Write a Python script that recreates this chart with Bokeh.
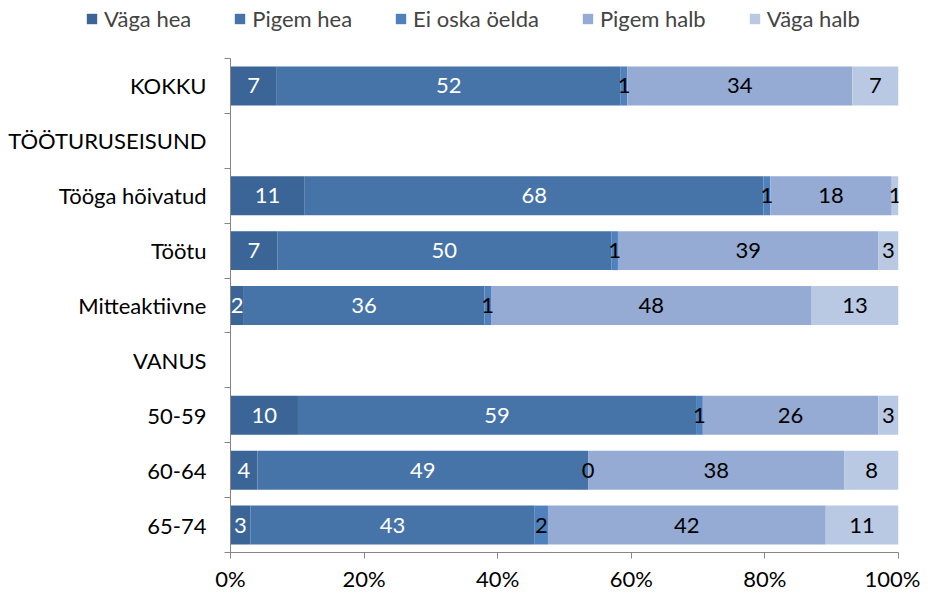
from bokeh.plotting import figure
from bokeh.models import Range1d, FixedTicker, ColumnDataSource, Legend, LegendItem
from bokeh.core.properties import value
from bokeh.embed import file_html
from bokeh.resources import INLINE

categories = ["KOKKU", "TÖÖTURUSEISUND", "Tööga hõivatud", "Töötu", "Mitteaktiivne",
              "VANUS", "50-59", "60-64", "65-74"]
series = ["Väga hea", "Pigem hea", "Ei oska öelda", "Pigem halb", "Väga halb"]
vaga_hea = [7, 0, 11, 7, 2, 0, 10, 4, 3]
pigem_hea = [52, 0, 68, 50, 36, 0, 59, 49, 43]
ei_oska = [1, 0, 1, 1, 1, 0, 1, 0, 2]
pigem_halb = [34, 0, 18, 39, 48, 0, 26, 38, 42]
vaga_halb = [7, 0, 1, 3, 13, 0, 3, 8, 11]
header_rows = ["TÖÖTURUSEISUND", "VANUS"]
x_ticks = [0, 20, 40, 60, 80, 100]

colors = ["#3A6596", "#4674A9", "#4F81BD", "#95ABD3", "#B9C8E3"]
label_colors = ["white", "white", "black", "black", "black"]
FONT = "Lato"
FS = "22px"

all_vals = [vaga_hea, pigem_hea, ei_oska, pigem_halb, vaga_halb]
n = len(categories)
ypos = [n - 1 - i for i in range(n)]
NAN = float("nan")

# ---- legend strip (separate root) ----
lg = figure(width=920, height=40, output_backend="svg", toolbar_location=None,
            x_range=Range1d(0, 1), y_range=Range1d(0, 1),
            min_border_left=0, min_border_right=0, min_border_top=0, min_border_bottom=0,
            x_axis_location=None, y_axis_location=None)
lg.outline_line_color = None
lg.xgrid.grid_line_color = None
lg.ygrid.grid_line_color = None
lg_items = []
for s, col in zip(series, colors):
    rr = lg.hbar(y=[NAN], left=[NAN], right=[NAN], height=0.5, fill_color=col, line_color=None)
    lg_items.append(LegendItem(label=s, renderers=[rr]))
legend = Legend(items=lg_items, orientation="horizontal", location=(85, 8),
                label_text_font=FONT, label_text_font_size=FS, label_standoff=6,
                glyph_width=13, glyph_height=13, spacing=42, padding=0, margin=0,
                border_line_color=None, background_fill_alpha=0)
lg.add_layout(legend, "center")

# ---- main chart ----
p = figure(width=920, height=554, output_backend="svg", toolbar_location=None,
           x_range=Range1d(0, 100), y_range=Range1d(-0.5, n - 0.5),
           min_border_left=230, min_border_right=22, min_border_top=18, min_border_bottom=32)
p.outline_line_color = None
p.xgrid.grid_line_color = None
p.ygrid.grid_line_color = None

totals = [sum(v[i] for v in all_vals) for i in range(n)]
left = [0.0] * n
label_sources = []
for s, vals, col, lc in zip(series, all_vals, colors, label_colors):
    share = [vals[i] / totals[i] * 100 if totals[i] else 0 for i in range(n)]
    right = [left[i] + share[i] for i in range(n)]
    src = ColumnDataSource(dict(y=ypos, left=list(left), right=right))
    p.hbar(y="y", left="left", right="right", height=0.71, source=src,
           fill_color=col, line_color=None)
    idx = [i for i in range(n) if categories[i] not in header_rows]
    lsrc = ColumnDataSource(dict(
        x=[(left[i] + right[i]) / 2 for i in idx],
        y=[ypos[i] for i in idx],
        t=[str(vals[i]) for i in idx]))
    label_sources.append((lsrc, lc))
    left = right

for lsrc, lc in label_sources:
    p.text(x="x", y="y", text="t", source=lsrc, text_align="center", text_baseline="middle",
           text_font=value(FONT), text_font_size=FS, text_color=lc)

ax_col = "#868686"
yax = p.yaxis[0]
yax.ticker = FixedTicker(ticks=ypos, minor_ticks=[k + 0.5 for k in range(-1, n)])
yax.major_label_overrides = {ypos[i]: categories[i] for i in range(n)}
yax.major_tick_out = 0
yax.major_tick_in = 0
yax.minor_tick_out = 6
yax.minor_tick_in = 0
yax.minor_tick_line_color = ax_col
yax.axis_line_color = ax_col
yax.major_label_text_font = FONT
yax.major_label_text_font_size = FS
yax.major_label_text_color = "black"
yax.major_label_standoff = 18

xax = p.xaxis[0]
xax.ticker = FixedTicker(ticks=x_ticks, minor_ticks=[])
xax.major_label_overrides = {t: f"{t}%" for t in x_ticks}
xax.major_tick_out = 6
xax.major_tick_in = 0
xax.major_tick_line_color = ax_col
xax.axis_line_color = ax_col
xax.major_label_text_font = FONT
xax.major_label_text_font_size = FS
xax.major_label_text_color = "black"
xax.major_label_standoff = 6

open("out.html", "w").write(file_html((lg, p), INLINE))
